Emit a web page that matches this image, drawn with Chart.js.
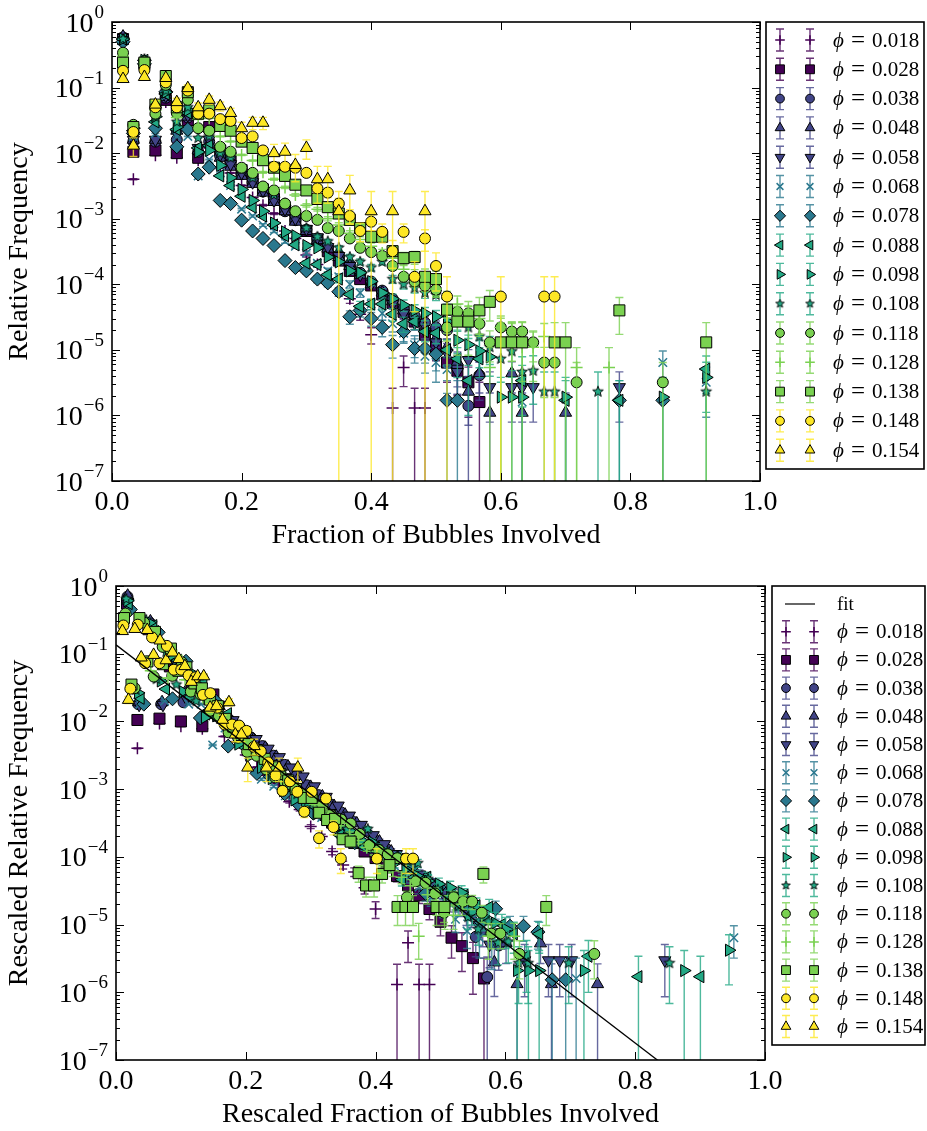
<!DOCTYPE html>
<html>
<head>
<meta charset="utf-8">
<script src="https://cdn.jsdelivr.net/npm/chart.js@4.4.1/dist/chart.umd.min.js"></script>
<style>
  html, body { margin: 0; padding: 0; background: #fff; }
  #wrap { position: relative; width: 927px; height: 1131px; }
  #topChart { position: absolute; left: 0; top: 0; }
  #bottomChart { position: absolute; left: 0; top: 560px; }
</style>
</head>
<body>
<div id="wrap">
  <canvas id="topChart" width="927" height="560"></canvas>
  <canvas id="bottomChart" width="927" height="571"></canvas>
</div>
<script>
// ----------------------
// DATA
// ----------------------
const phiLabels = ["0.018", "0.028", "0.038", "0.048", "0.058", "0.068", "0.078", "0.088",
                   "0.098", "0.108", "0.118", "0.128", "0.138", "0.148", "0.154"];

// fraction of bubbles involved, one entry per bin
const fractionBins = [0.017, 0.033, 0.050, 0.067, 0.083, 0.100, 0.117, 0.133, 0.150, 0.167,
                      0.183, 0.200, 0.217, 0.233, 0.250, 0.267, 0.283, 0.300, 0.317, 0.333,
                      0.350, 0.367, 0.383, 0.400, 0.417, 0.433, 0.450, 0.467, 0.483, 0.500,
                      0.517, 0.533, 0.550, 0.567, 0.583, 0.600, 0.617, 0.633, 0.650, 0.667,
                      0.683, 0.700, 0.717, 0.733, 0.750, 0.767, 0.783, 0.800, 0.817, 0.833,
                      0.850, 0.867, 0.883, 0.900, 0.917];

// relative frequency per bin (null = no event in that bin)
const freq018 = [0.55, 0.004, 0.22, 0.0093, 0.06, 0.0085, 0.03, 0.0078, 0.012, 0.006,
                 0.005, 0.0032, 0.0021, 0.0016, 0.0012, 6.5e-4, 5e-4, 2.8e-4, 2e-4, 1.2e-4,
                 7.6e-5, 6e-5, 3.5e-5, 1.7e-5, null, 1.3e-6, 5.4e-6, 1.3e-6, 1.3e-6];
const freq028 = [0.55, 0.0105, 0.23, 0.011, 0.065, 0.01, 0.032, 0.0085, 0.025, 0.011,
                 0.0085, 0.0055, 0.004, 0.0028, 0.002, 0.0014, 0.001, 6.5e-4, 4.8e-4, 3.2e-4,
                 2.3e-4, 1.6e-4, 1.2e-4, 9.6e-5, 7e-5, 5.2e-5, 3.8e-5, 2.7e-5, 1.7e-5, 1.1e-5,
                 6.4e-6, 4.8e-6, 3.2e-6, 1.6e-6];
const freq038 = [0.58, 0.015, 0.24, 0.015, 0.07, 0.016, 0.035, 0.0105, 0.015, 0.009,
                 0.007, 0.0048, 0.0036, 0.0026, 0.0019, 0.0013, 9.5e-4, 6.8e-4, 5e-4, 3.8e-4,
                 2.8e-4, 2e-4, 1.5e-4, 1.1e-4, 8e-5, 6e-5, 4.3e-5, 3.3e-5, 2.6e-5, 2.2e-5,
                 2e-5, 5.5e-6, 1.4e-6, 4.1e-6];
const freq048 = [0.6, 0.016, 0.25, 0.016, 0.072, 0.022, 0.036, 0.011, 0.014, 0.0085,
                 0.0062, 0.0045, 0.0034, 0.0025, 0.0018, 0.0013, 9e-4, 6.5e-4, 4.7e-4, 3.5e-4,
                 2.6e-4, 1.9e-4, 1.4e-4, 1e-4, 7.5e-5, 5.5e-5, 4e-5, 3e-5, 2.2e-5, 1.5e-5,
                 1.1e-5, 6.6e-6, 2.3e-6, 4.4e-6, 1.1e-6, null, 4.4e-6, 1.1e-6, null, null,
                 null, 1.1e-6];
const freq058 = [0.52, 0.016, 0.24, 0.016, 0.075, 0.02, 0.038, 0.012, 0.016, 0.0095,
                 0.0068, 0.005, 0.0036, 0.0027, 0.0019, 0.0014, 0.001, 7e-4, 5.2e-4, 3.7e-4,
                 2.7e-4, 1.9e-4, 1.4e-4, 1e-4, 7e-5, 5e-5, 3.6e-5, 2.6e-5, 1.9e-5, 1.3e-5,
                 9e-6, 4.6e-6, 7e-6, null, 2.7e-6, null, 2.7e-6, 2.7e-6, 2.7e-6, null,
                 null, null, null, null, null, null, 2.7e-6];
const freq068 = [0.5, 0.018, 0.22, 0.02, 0.075, 0.018, 0.018, 0.0045, 0.008, 0.005,
                 0.0032, 0.0014, 0.0011, 8e-4, 6.5e-4, 4.5e-4, 3.8e-4, 3e-4, 2.1e-4, 1.6e-4,
                 1.3e-4, 1e-4, 7.4e-5, 5e-5, 3.6e-5, 2.5e-5, 1.8e-5, 1.2e-5, 8e-6, 6.4e-6,
                 5e-6, null, null, null, null, null, null, 1.6e-6, null, null,
                 null, null, null, null, null, null, null, null, null, null,
                 6.4e-6, null, null, null, 3.2e-6];
const freq078 = [0.5, 0.02, 0.23, 0.024, 0.086, 0.0125, 0.023, 0.0048, 0.0061, 0.0019,
                 0.0017, 9.5e-4, 6.5e-4, 5e-4, 3.9e-4, 2.3e-4, 1.8e-4, 1.6e-4, 1.2e-4, 1.05e-4,
                 7.7e-5, 3.2e-5, 4e-5, 3e-5, 2.2e-5, 1.2e-5, 1.9e-5, 1.05e-5, 1.05e-5, 8.6e-6,
                 1.7e-6, 1.7e-6, null, null, null, null, null, null, null, null,
                 null, null, null, null, null, null, 1.7e-6, null, null, null,
                 1.7e-6];
const freq088 = [0.55, 0.022, 0.26, 0.03, 0.08, 0.023, 0.041, 0.012, 0.013, 0.0045,
                 0.0032, 0.0022, 0.0015, 0.0011, 8e-4, 5.5e-4, 4e-4, 2.1e-4, 2e-4, 1.4e-4,
                 1.2e-4, 7e-5, 4.6e-5, 5e-5, 5e-5, 3.5e-5, 2.5e-5, 2.7e-5, 1.9e-5, 1.8e-5,
                 1e-5, 7.3e-6, 3.4e-6, 7.3e-6, null, null, null, 3.4e-6, null, null,
                 null, 1.7e-6, null, null, null, null, 1.7e-6, null, null, null,
                 null, null, null, null, 5.1e-6];
const freq098 = [0.55, 0.024, 0.26, 0.036, 0.085, 0.025, 0.045, 0.0104, 0.011, 0.0065,
                 0.0042, 0.0028, 0.0019, 0.0013, 8.6e-4, 6.3e-4, 5.5e-4, 3.9e-4, 3.6e-4, 2.6e-4,
                 2.2e-4, 1.6e-4, 1.5e-4, 1.1e-4, 7.4e-5, 6e-5, 4.8e-5, 4e-5, 3.6e-5, 3.2e-5,
                 2.7e-5, 1.4e-5, 1.2e-5, 9.6e-6, 7.8e-6, 1.9e-6, 1.9e-6, 1.9e-6, null, null,
                 null, 1.9e-6, null, null, null, null, null, null, null, null,
                 1.9e-6, null, null, null, 3.8e-6];
const freq108 = [0.55, 0.025, 0.27, 0.036, 0.09, 0.03, 0.05, 0.017, 0.018, 0.01,
                 0.0085, 0.0056, 0.0042, 0.003, 0.0023, 0.0017, 0.0012, 7.2e-4, 5.3e-4, 4.5e-4,
                 3.6e-4, 2.6e-4, 2.2e-4, 1.8e-4, 2.2e-4, 1.2e-4, 1e-4, 8.8e-5, 7.4e-5, 6.9e-5,
                 4e-5, 2.8e-5, 2.2e-5, 1.6e-5, 1.1e-5, 7.3e-6, 9.5e-6, 4.6e-6, 4.8e-6, 2.3e-6,
                 2.3e-6, null, null, null, 2.3e-6, null, null, null, null, null,
                 null, null, null, null, 2.3e-6];
const freq118 = [0.34, 0.027, 0.25, 0.04, 0.11, 0.041, 0.065, 0.024, 0.022, 0.0125,
                 0.0105, 0.006, 0.005, 0.0031, 0.0027, 0.0017, 0.0013, 0.0011, 9.6e-4, 7.2e-4,
                 6.5e-4, 5e-4, 3.6e-4, 3.1e-4, 2.7e-4, 1.9e-4, 1.3e-4, 1.1e-4, 9.5e-5, 8.3e-5,
                 2.2e-5, 3.8e-5, 3.6e-5, 2.5e-5, 1.3e-5, 2.2e-5, 1.9e-5, 1.9e-5, 1.3e-5, 6.4e-6,
                 6.4e-6, null, 3.2e-6, null, null, null, null, null, null, null,
                 3.2e-6];
const freq128 = [0.3, 0.026, 0.24, 0.045, 0.13, 0.035, 0.075, 0.033, 0.034, 0.018,
                 0.015, 0.0094, 0.0077, 0.0051, 0.004, 0.003, 0.0023, 0.0016, 0.0014, 0.001,
                 8e-4, 6e-4, 4.8e-4, 3.8e-4, 3e-4, 2.5e-4, 1.7e-4, 1.4e-4, 1.1e-4, 8.5e-5,
                 6e-5, 5e-5, 4e-5, 3e-5, 5.4e-6, 2.2e-5, 1.6e-5, 1.1e-5, 1.1e-5, 1.6e-5,
                 null, null, 5.4e-6, null, null, 5.4e-6];
const freq138 = [0.24, 0.025, 0.24, 0.055, 0.15, 0.05, 0.085, 0.04, 0.045, 0.026,
                 0.022, 0.015, 0.012, 0.0078, 0.006, 0.0045, 0.0033, 0.0027, 0.002, 0.0015,
                 0.0012, 9.6e-4, 7.2e-4, 5.3e-4, 5.3e-4, 3.2e-4, 2.5e-4, 2.6e-4, 1.3e-4, 1.2e-4,
                 4.1e-5, 2.7e-5, 2.7e-5, 4e-5, 5.4e-5, 1.3e-5, 1.3e-5, 1.3e-5, null, null,
                 1.3e-5, 1.3e-5, null, null, null, null, 4e-5, null, null, null,
                 null, null, null, null, 1.3e-5];
const freq148 = [0.18, 0.021, 0.185, 0.05, 0.12, 0.05, 0.09, 0.04, 0.04, 0.033,
                 0.031, 0.017, 0.018, 0.011, 0.0062, 0.0062, 0.006, 0.005, 0.0029, 0.0025,
                 0.0017, 0.0011, 6.5e-4, 9e-4, 6.3e-4, 3.2e-4, 6.3e-4, 1.3e-4, 5e-4, 1.9e-4,
                 6.5e-5, null, null, null, null, 6.5e-5, null, null, null, 6.5e-5,
                 6.5e-5];
const freq154 = [0.135, 0.013, 0.145, 0.055, 0.14, 0.06, 0.098, 0.05, 0.065, 0.052,
                 0.041, 0.024, 0.029, 0.029, 0.01, 0.0105, 0.0066, 0.012, 0.004, 0.004,
                 0.0013, 0.0027, null, 0.0013, null, 0.0013, null, null, 0.0013];

const freqSeries = [freq018, freq028, freq038, freq048, freq058, freq068, freq078, freq088,
                    freq098, freq108, freq118, freq128, freq138, freq148, freq154];

// relative frequency of a single event in each run (Poisson error bars)
const singleEvent = [1.3e-6, 1.6e-6, 1.4e-6, 1.1e-6, 1.35e-6, 1.6e-6, 1.7e-6, 1.7e-6,
                     1.9e-6, 2.3e-6, 3.2e-6, 5.4e-6, 1.3e-5, 6.5e-5, 1.3e-3];
// same quantity after pooling, in rescaled units
const singleEventRescaled = [1.3e-6, 1.6e-6, 1.6e-6, 1.3e-6, 1.5e-6, 1.6e-6, 1.5e-6, 1.7e-6,
                             2.0e-6, 1.5e-6, 1.2e-6, 2.0e-6, 4.0e-6, 1.5e-5, 3.0e-4];

// rescaling factors used for the collapsed plot
const rescaleX = [1, 1, 1.04, 1.06, 1.08, 1.12, 1.3, 1.15, 1.03, 0.93, 0.867, 0.8, 0.723, 0.67, 0.58];
const rescaleY = [1, 1, 1.2, 1.2, 1.1, 1.0, 0.9, 1.0, 1.1, 1.17, 1.15, 1.25, 1.4, 1.45, 1.6];

// exponential fit of the collapsed data: y = A * 10^(-k x)
const fitAmplitude = 0.135;
const fitDecadesPerUnit = 7.35;

const xTicks = [0, 0.2, 0.4, 0.6, 0.8, 1.0];
const yDecades = [0, -1, -2, -3, -4, -5, -6, -7];

// ----------------------
// STYLE
// ----------------------
const seriesColors = ["#440154", "#440154", "#414487", "#414487", "#414487", "#2a788e", "#2a788e",
                      "#22a884", "#22a884", "#22a884", "#7ad151", "#7ad151", "#7ad151", "#fde725", "#fde725"];
const markerShapes = ["plus", "square", "circle", "triUp", "triDown", "x", "diamond", "triLeft",
                      "triRight", "star", "circle", "plus", "square", "circle", "triUp"];
const FONT = '"Liberation Serif", "DejaVu Serif", serif';

function withAlpha(hex, a) {
  const n = parseInt(hex.slice(1), 16);
  return `rgba(${n >> 16}, ${(n >> 8) & 255}, ${n & 255}, ${a})`;
}

function starImage(color, scale) {
  const s = Math.round(16 * scale), c = document.createElement("canvas");
  c.width = c.height = s;
  const g = c.getContext("2d");
  const R = 5.6 * scale, r = 2.4 * scale;
  g.beginPath();
  for (let j = 0; j < 10; j++) {
    const rad = j % 2 ? r : R;
    const ang = -Math.PI / 2 + j * Math.PI / 5;
    g.lineTo(s / 2 + rad * Math.cos(ang), s / 2 + rad * Math.sin(ang));
  }
  g.closePath();
  g.fillStyle = color;
  g.fill();
  g.lineWidth = 0.9;
  g.strokeStyle = "#000";
  g.stroke();
  return c;
}

function markerOptions(i, scale) {
  const color = seriesColors[i];
  const m = { pointStyle: "circle", rotation: 0, radius: 5.5 * scale, borderColor: "#000", borderWidth: 1, backgroundColor: color };
  switch (markerShapes[i]) {
    case "plus": Object.assign(m, { pointStyle: "cross", radius: 6 * scale, borderColor: color, borderWidth: 1.5 }); break;
    case "x": Object.assign(m, { pointStyle: "crossRot", radius: 6 * scale, borderColor: color, borderWidth: 1.5 }); break;
    case "square": Object.assign(m, { pointStyle: "rect", radius: 7.8 * scale }); break;
    case "diamond": Object.assign(m, { pointStyle: "rectRot", radius: 7 * scale }); break;
    case "triUp": Object.assign(m, { pointStyle: "triangle", radius: 7 * scale }); break;
    case "triDown": Object.assign(m, { pointStyle: "triangle", rotation: 180, radius: 7 * scale }); break;
    case "triLeft": Object.assign(m, { pointStyle: "triangle", rotation: -90, radius: 7 * scale }); break;
    case "triRight": Object.assign(m, { pointStyle: "triangle", rotation: 90, radius: 7 * scale }); break;
    case "star": Object.assign(m, { pointStyle: starImage(color, scale) }); break;
  }
  return m;
}

function buildDatasets(sx, sy, unit) {
  return freqSeries.map((freqs, i) => {
    const pts = [], errs = [];
    freqs.forEach((f, k) => {
      if (f === null) return;
      const y = f * sy[i];
      pts.push({ x: fractionBins[k] * sx[i], y });
      errs.push(Math.sqrt(y * unit[i]));
    });
    const m = markerOptions(i, 1);
    return {
      label: "phi = " + phiLabels[i],
      data: pts,
      errors: errs,
      errorColor: withAlpha(seriesColors[i], 0.8),
      showLine: false,
      pointStyle: m.pointStyle,
      rotation: m.rotation,
      pointRadius: m.radius,
      pointBackgroundColor: m.backgroundColor,
      pointBorderColor: m.borderColor,
      pointBorderWidth: m.borderWidth,
      clip: 0,
      order: freqSeries.length - i
    };
  });
}

// ----------------------
// PLUGINS
// ----------------------
const errorBarPlugin = {
  id: "errorBars",
  beforeDatasetDraw(chart, args) {
    const ds = chart.data.datasets[args.index];
    if (!ds.errors) return;
    const { ctx, chartArea: a } = chart;
    const xs = chart.scales.x, ys = chart.scales.y;
    ctx.save();
    ctx.beginPath();
    ctx.rect(a.left, a.top, a.right - a.left, a.bottom - a.top);
    ctx.clip();
    ctx.strokeStyle = ds.errorColor;
    ctx.lineWidth = 1.4;
    ds.data.forEach((p, j) => {
      const e = ds.errors[j];
      const px = xs.getPixelForValue(p.x);
      const hi = ys.getPixelForValue(p.y + e);
      const loVal = p.y - e;
      const lo = loVal > 1e-9 ? ys.getPixelForValue(loVal) : a.bottom + 5;
      ctx.beginPath();
      ctx.moveTo(px, hi); ctx.lineTo(px, lo);
      ctx.moveTo(px - 4, hi); ctx.lineTo(px + 4, hi);
      ctx.moveTo(px - 4, lo); ctx.lineTo(px + 4, lo);
      ctx.stroke();
    });
    ctx.restore();
  }
};

function drawPowerLabel(ctx, xRight, yTick, exp) {
  const sup = exp === 0 ? "0" : "\u2212" + (-exp);
  ctx.textAlign = "left";
  ctx.textBaseline = "alphabetic";
  ctx.font = "19px " + FONT;
  const sw = ctx.measureText(sup).width;
  ctx.fillText(sup, xRight - sw, yTick - 4);
  ctx.font = "28px " + FONT;
  const bw = ctx.measureText("10").width;
  ctx.fillText("10", xRight - sw - bw - 1, yTick + 9.5);
}

function drawLegendSample(ctx, i, x, y) {
  ctx.save();
  ctx.strokeStyle = withAlpha(seriesColors[i], 0.8);
  ctx.lineWidth = 1.4;
  ctx.beginPath();
  ctx.moveTo(x, y - 11); ctx.lineTo(x, y + 11);
  ctx.moveTo(x - 4, y - 11); ctx.lineTo(x + 4, y - 11);
  ctx.moveTo(x - 4, y + 11); ctx.lineTo(x + 4, y + 11);
  ctx.stroke();
  const m = markerOptions(i, 0.8);
  ctx.fillStyle = m.backgroundColor;
  ctx.strokeStyle = m.borderColor;
  ctx.lineWidth = m.borderWidth;
  Chart.helpers.drawPoint(ctx, { pointStyle: m.pointStyle, rotation: m.rotation, radius: m.radius, borderWidth: m.borderWidth }, x, y);
  ctx.restore();
}

const framePlugin = {
  id: "frame",
  afterDraw(chart, args, opts) {
    const { ctx, chartArea: a } = chart;
    const xs = chart.scales.x, ys = chart.scales.y;
    ctx.save();
    ctx.strokeStyle = "#000";
    ctx.fillStyle = "#000";

    // ticks on all four sides, pointing inward
    ctx.lineWidth = 1;
    ctx.beginPath();
    xTicks.forEach(v => {
      const px = Math.round(xs.getPixelForValue(v)) + 0.5;
      ctx.moveTo(px, a.bottom); ctx.lineTo(px, a.bottom - 8);
      ctx.moveTo(px, a.top); ctx.lineTo(px, a.top + 8);
    });
    yDecades.forEach(d => {
      const py = Math.round(ys.getPixelForValue(Math.pow(10, d))) + 0.5;
      ctx.moveTo(a.left, py); ctx.lineTo(a.left + 8, py);
      ctx.moveTo(a.right, py); ctx.lineTo(a.right - 8, py);
      if (d > -7) {
        for (let m = 2; m <= 9; m++) {
          const pm = Math.round(ys.getPixelForValue(m * Math.pow(10, d - 1))) + 0.5;
          ctx.moveTo(a.left, pm); ctx.lineTo(a.left + 4, pm);
          ctx.moveTo(a.right, pm); ctx.lineTo(a.right - 4, pm);
        }
      }
    });
    ctx.stroke();

    ctx.lineWidth = 1.6;
    ctx.strokeRect(a.left, a.top, a.right - a.left, a.bottom - a.top);

    // tick labels
    ctx.font = "28px " + FONT;
    ctx.textAlign = "center";
    ctx.textBaseline = "alphabetic";
    xTicks.forEach(v => ctx.fillText(v.toFixed(1), xs.getPixelForValue(v), a.bottom + 29));
    yDecades.forEach(d => drawPowerLabel(ctx, a.left - 8, ys.getPixelForValue(Math.pow(10, d)), d));

    // axis titles
    ctx.font = "28px " + FONT;
    ctx.textAlign = "center";
    ctx.fillText(opts.xTitle, (a.left + a.right) / 2, a.bottom + 62);
    ctx.save();
    ctx.translate(27, (a.top + a.bottom) / 2);
    ctx.rotate(-Math.PI / 2);
    ctx.fillText(opts.yTitle, 0, 0);
    ctx.restore();

    // legend
    const L = opts.legend;
    ctx.fillStyle = "#fff";
    ctx.fillRect(L.box[0], L.box[1], L.box[2] - L.box[0], L.box[3] - L.box[1]);
    ctx.lineWidth = 1.6;
    ctx.strokeStyle = "#000";
    ctx.strokeRect(L.box[0], L.box[1], L.box[2] - L.box[0], L.box[3] - L.box[1]);
    ctx.fillStyle = "#000";
    ctx.textAlign = "left";
    if (L.fitRow !== undefined) {
      ctx.lineWidth = 1.2;
      ctx.beginPath();
      ctx.moveTo(L.markerX[0] - 1, L.fitRow); ctx.lineTo(L.markerX[1] + 1, L.fitRow);
      ctx.stroke();
      ctx.font = "19px " + FONT;
      ctx.fillText("fit", L.textX, L.fitRow + 6);
    }
    phiLabels.forEach((lab, i) => {
      const y = L.firstRow + i * L.rowStep;
      drawLegendSample(ctx, i, L.markerX[0], y);
      drawLegendSample(ctx, i, L.markerX[1], y);
      ctx.fillStyle = "#000";
      ctx.textAlign = "left";
      ctx.font = "italic 21px " + FONT;
      ctx.fillText("\u03d5", L.textX, y + 6.5);
      ctx.font = "25px " + FONT;
      ctx.textAlign = "center";
      ctx.fillText("=", L.textX + 25, y + 7.5);
      ctx.font = "21px " + FONT;
      ctx.textAlign = "left";
      ctx.fillText(lab, L.textX + 39, y + 6.5);
    });
    ctx.restore();
  }
};

function makeChart(canvasId, datasets, padding, opts) {
  return new Chart(document.getElementById(canvasId), {
    type: "scatter",
    data: { datasets },
    options: {
      responsive: false,
      animation: false,
      events: [],
      devicePixelRatio: 1,
      layout: { padding },
      scales: {
        x: { type: "linear", min: 0, max: 1, display: false },
        y: { type: "logarithmic", min: 1e-7, max: 1, display: false }
      },
      plugins: {
        legend: { display: false },
        tooltip: { enabled: false },
        frame: opts
      }
    },
    plugins: [errorBarPlugin, framePlugin]
  });
}

// ----------------------
// RAW DISTRIBUTIONS
// ----------------------
const ones = freqSeries.map(() => 1);
makeChart("topChart", buildDatasets(ones, ones, singleEvent),
  { left: 112, right: 927 - 760, top: 22, bottom: 560 - 481 },
  {
    xTitle: "Fraction of Bubbles Involved",
    yTitle: "Relative Frequency",
    legend: { box: [766, 22, 924, 469], firstRow: 40, rowStep: 29.3, markerX: [780, 810], textX: 833 }
  });

// ----------------------
// RESCALED DISTRIBUTIONS
// ----------------------
const rescaled = buildDatasets(rescaleX, rescaleY, singleEventRescaled);
rescaled.push({
  label: "fit",
  data: [
    { x: 0, y: fitAmplitude },
    { x: 1, y: fitAmplitude * Math.pow(10, -fitDecadesPerUnit) }
  ],
  showLine: true,
  borderColor: "#000",
  borderWidth: 1.3,
  pointRadius: 0,
  clip: 0,
  order: 0
});
makeChart("bottomChart", rescaled,
  { left: 116, right: 927 - 765, top: 26, bottom: 571 - 500 },
  {
    xTitle: "Rescaled Fraction of Bubbles Involved",
    yTitle: "Rescaled Relative Frequency",
    legend: { box: [772, 26, 925, 485], fitRow: 44, firstRow: 71.7, rowStep: 28.2, markerX: [786, 814], textX: 837 }
  });
</script>
</body>
</html>
